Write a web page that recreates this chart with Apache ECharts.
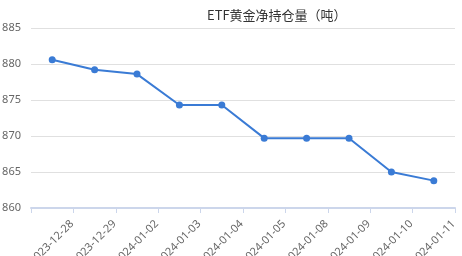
<!DOCTYPE html>
<html><head><meta charset="utf-8">
<script src="https://cdn.jsdelivr.net/npm/echarts@6/dist/echarts.min.js"></script>
<style>html,body{margin:0;padding:0;background:#fff}#c{width:462px;height:256px}</style>
</head><body><div id="c"></div>
<script>
const categories = ['2023-12-28','2023-12-29','2024-01-02','2024-01-03','2024-01-04','2024-01-05','2024-01-08','2024-01-09','2024-01-10','2024-01-11'];
const holdings = [880.6, 879.2, 878.6, 874.3, 874.3, 869.7, 869.7, 869.7, 865.0, 863.8];
const titleText = 'ETF黄金净持仓量（吨）';
const chart = echarts.init(document.getElementById('c'));
chart.setOption({
  animation: false,
  title: { text: titleText, left: 202, top: 4, textStyle: { fontSize: 13, fontWeight: 'normal', color: '#333', fontFamily: 'Noto Sans CJK SC' } },
  grid: { left: 31, right: 7, top: 28, bottom: 48, outerBoundsMode: 'none', containLabel: false },
  xAxis: {
    type: 'category', data: categories, boundaryGap: true,
    axisLine: { lineStyle: { color: '#ccd6eb', width: 2 } },
    axisTick: { show: true, lineStyle: { color: '#ccd6eb' } },
    axisLabel: { rotate: 45, fontSize: 11, color: '#666', margin: 34, padding: [0, -28, 0, 0], fontFamily: 'Noto Sans' }
  },
  yAxis: {
    type: 'value', min: 860, max: 885, interval: 5,
    axisLine: { show: false }, axisTick: { show: false },
    axisLabel: { fontSize: 11, color: '#666', margin: 10, fontFamily: 'Noto Sans' },
    splitLine: { lineStyle: { color: '#e0e0e0' } }
  },
  series: [{
    type: 'line', data: holdings, symbol: 'circle', symbolSize: 7,
    lineStyle: { color: '#3a7bd5', width: 2 }, itemStyle: { color: '#3a7bd5' }
  }]
});
</script></body></html>
